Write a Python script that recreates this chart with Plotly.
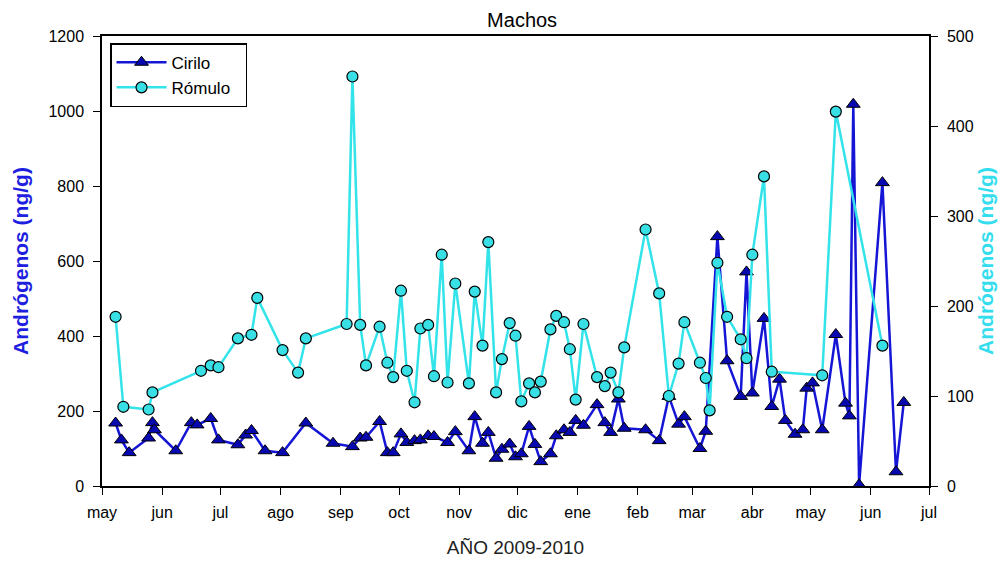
import plotly.graph_objects as go

cirilo_dates = [
    "2009-05-08", "2009-05-11", "2009-05-15", "2009-05-25", "2009-05-27", "2009-05-28",
    "2009-06-08", "2009-06-16", "2009-06-19", "2009-06-26", "2009-06-30", "2009-07-10",
    "2009-07-14", "2009-07-17", "2009-07-24", "2009-08-02", "2009-08-14", "2009-08-28",
    "2009-09-07", "2009-09-11", "2009-09-14", "2009-09-21", "2009-09-25", "2009-09-28",
    "2009-10-02", "2009-10-05", "2009-10-09", "2009-10-12", "2009-10-16", "2009-10-19",
    "2009-10-26", "2009-10-30", "2009-11-06", "2009-11-09", "2009-11-13", "2009-11-16",
    "2009-11-20", "2009-11-23", "2009-11-27", "2009-11-30", "2009-12-03", "2009-12-07",
    "2009-12-10", "2009-12-13", "2009-12-18", "2009-12-21", "2009-12-25", "2009-12-28",
    "2009-12-31", "2010-01-04", "2010-01-11", "2010-01-15", "2010-01-18", "2010-01-22",
    "2010-01-25", "2010-02-05", "2010-02-12", "2010-02-17", "2010-02-22", "2010-02-25",
    "2010-03-05", "2010-03-08", "2010-03-14", "2010-03-19", "2010-03-26", "2010-03-29",
    "2010-04-01", "2010-04-07", "2010-04-11", "2010-04-15", "2010-04-18", "2010-04-23",
    "2010-04-27", "2010-04-29", "2010-05-02", "2010-05-07", "2010-05-14", "2010-05-19",
    "2010-05-21", "2010-05-23", "2010-05-26", "2010-06-07", "2010-06-14", "2010-06-18",
]
cirilo_values = [
    168, 123, 89, 128, 169, 150,
    94, 169, 163, 180, 123, 110,
    136, 148, 94, 89, 168, 114,
    105, 128, 130, 172, 89, 89,
    139, 116, 121, 123, 134, 132,
    116, 145, 94, 185, 114, 143,
    74, 98, 112, 78, 86, 159,
    111, 65, 86, 134, 150, 143,
    175, 162, 217, 169, 143, 232,
    154, 150, 121, 239, 165, 185,
    100, 146, 665, 334, 239, 571,
    248, 447, 212, 285, 175, 138,
    150, 261, 275, 150, 404, 221,
    187, 1018, 3, 809, 38, 223,
]

romulo_dates = [
    "2009-05-08", "2009-05-12", "2009-05-25", "2009-05-27", "2009-06-21", "2009-06-26",
    "2009-06-30", "2009-07-10", "2009-07-17", "2009-07-20", "2009-08-02", "2009-08-10",
    "2009-08-14", "2009-09-04", "2009-09-07", "2009-09-11", "2009-09-14", "2009-09-21",
    "2009-09-25", "2009-09-28", "2009-10-02", "2009-10-05", "2009-10-09", "2009-10-12",
    "2009-10-16", "2009-10-19", "2009-10-23", "2009-10-26", "2009-10-30", "2009-11-06",
    "2009-11-09", "2009-11-13", "2009-11-16", "2009-11-20", "2009-11-23", "2009-11-27",
    "2009-11-30", "2009-12-03", "2009-12-07", "2009-12-10", "2009-12-13", "2009-12-18",
    "2009-12-21", "2009-12-25", "2009-12-28", "2009-12-31", "2010-01-04", "2010-01-11",
    "2010-01-15", "2010-01-18", "2010-01-22", "2010-01-25", "2010-02-05", "2010-02-12",
    "2010-02-17", "2010-02-22", "2010-02-25", "2010-03-05", "2010-03-08", "2010-03-10",
    "2010-03-14", "2010-03-19", "2010-03-26", "2010-03-29", "2010-04-01", "2010-04-07",
    "2010-04-11", "2010-05-07", "2010-05-14", "2010-06-07",
]
romulo_values = [
    188, 88, 85, 104, 128, 134,
    132, 164, 168, 209, 151, 126,
    164, 180, 455, 179, 134, 177,
    137, 121, 217, 128, 93, 175,
    179, 122, 257, 115, 225, 114,
    216, 156, 271, 104, 141, 181,
    167, 94, 114, 104, 116, 174,
    189, 182, 152, 96, 180, 121,
    111, 126, 104, 154, 285, 214,
    100, 136, 182, 137, 120, 84,
    248, 188, 163, 142, 257, 344,
    127, 123, 416, 156,
]

month_ticks = [
    "2009-05-01", "2009-06-01", "2009-07-01", "2009-08-01", "2009-09-01", "2009-10-01",
    "2009-11-01", "2009-12-01", "2010-01-01", "2010-02-01", "2010-03-01", "2010-04-01",
    "2010-05-01", "2010-06-01", "2010-07-01",
]
month_labels = ["may", "jun", "jul", "ago", "sep", "oct", "nov", "dic", "ene",
                "feb", "mar", "abr", "may", "jun", "jul"]

left_ticks = [0, 200, 400, 600, 800, 1000, 1200]
right_ticks = [0, 100, 200, 300, 400, 500]

FONT = "Liberation Sans, Arial, sans-serif"

fig = go.Figure()
fig.add_trace(go.Scatter(
    x=cirilo_dates, y=cirilo_values, name="Cirilo", mode="lines+markers",
    line=dict(color="#1515D6", width=2.5),
    marker=dict(symbol="triangle-up", size=12, color="#0808B0",
                line=dict(color="#000000", width=1)),
    yaxis="y",
))
fig.add_trace(go.Scatter(
    x=romulo_dates, y=romulo_values, name="Rómulo\u00a0\u00a0", mode="lines+markers",
    line=dict(color="#33E3EA", width=2.5),
    marker=dict(symbol="circle", size=11, color="#38E0E6",
                line=dict(color="#000000", width=1.2)),
    yaxis="y2",
))

fig.update_layout(
    width=1005, height=561,
    paper_bgcolor="white", plot_bgcolor="white",
    margin=dict(l=102, r=76, t=36, b=75, autoexpand=False),
    font=dict(family=FONT, size=16, color="#000000"),
    title=dict(text="Machos", x=0.508, xanchor="center", xref="paper",
               y=1 - 20 / 561, yanchor="middle", yref="container",
               font=dict(family=FONT, size=20, color="#000000")),
    showlegend=True,
    legend=dict(x=0.0097, y=0.984, xanchor="left", yanchor="top",
                bordercolor="#000000", borderwidth=1.5, bgcolor="white",
                font=dict(family=FONT, size=17), tracegroupgap=0,
                itemwidth=50),
    xaxis=dict(
        type="date", range=["2009-05-01", "2010-07-01"],
        tickmode="array", tickvals=month_ticks, ticktext=month_labels,
        ticks="outside", ticklen=7, tickwidth=1.2, tickcolor="#000000",
        showline=True, linecolor="#000000", linewidth=1.5, mirror=True,
        showgrid=False, zeroline=False, automargin=False,
        ticklabelstandoff=4,
        tickfont=dict(family=FONT, size=16),
        title=dict(text="AÑO 2009-2010", font=dict(family=FONT, size=19, color="#222222"),
                   standoff=21),
    ),
    yaxis=dict(
        range=[0, 1200], tickmode="array", tickvals=left_ticks,
        ticks="outside", ticklen=7, tickwidth=1.2, tickcolor="#000000",
        showline=True, linecolor="#000000", linewidth=1.5,
        showgrid=False, zeroline=False, automargin=False,
        ticklabelstandoff=6,
        tickfont=dict(family=FONT, size=16),
        title=dict(text="<b>Andrógenos (ng/g)</b>",
                   font=dict(family=FONT, size=21, color="#1E1EE0"), standoff=14),
    ),
    yaxis2=dict(
        range=[0, 500], tickmode="array", tickvals=right_ticks,
        overlaying="y", side="right",
        ticks="outside", ticklen=7, tickwidth=1.2, tickcolor="#000000",
        showline=True, linecolor="#000000", linewidth=1.5,
        showgrid=False, zeroline=False, automargin=False,
        ticklabelstandoff=6,
        tickfont=dict(family=FONT, size=16),
        title=dict(text="<b>Andrógenos (ng/g)</b>",
                   font=dict(family=FONT, size=21, color="#33DDEE"), standoff=6),
    ),
)

fig.write_html("out.html", config={"displayModeBar": False},
               post_script="document.body.style.margin='0';")
